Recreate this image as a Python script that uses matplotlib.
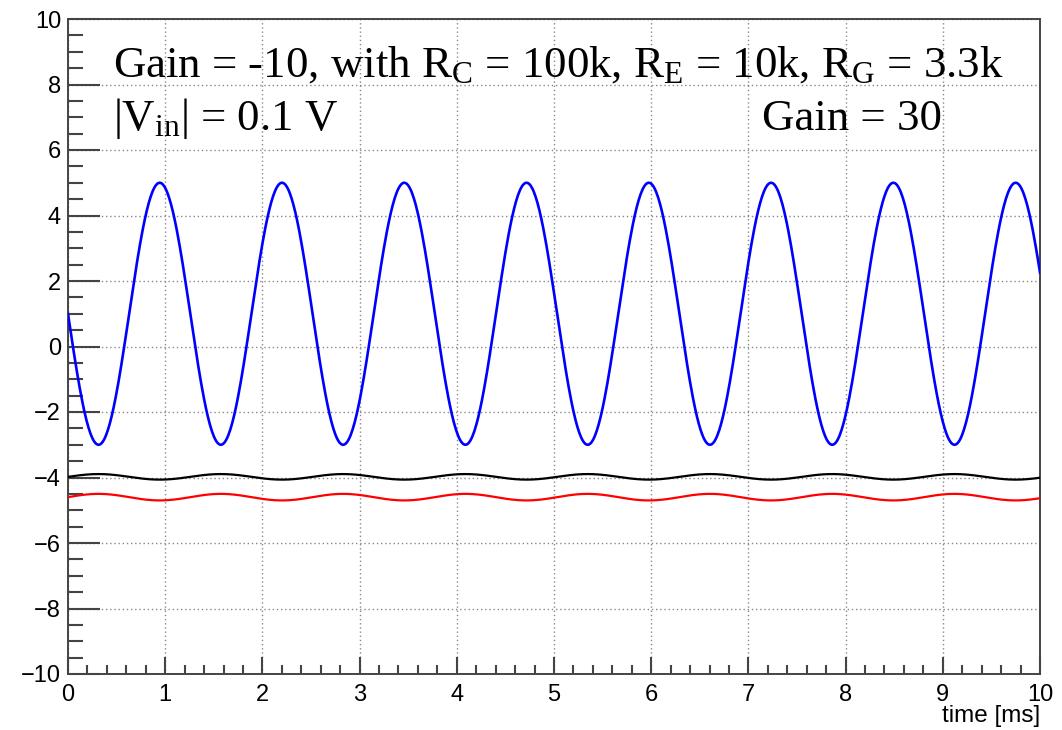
import numpy as np
import matplotlib
matplotlib.use("Agg")
import matplotlib.pyplot as plt
from matplotlib.ticker import MultipleLocator

plt.rcParams["mathtext.fontset"] = "custom"
plt.rcParams["mathtext.rm"] = "Liberation Serif"
plt.rcParams["mathtext.it"] = "Liberation Serif:italic"
plt.rcParams["axes.unicode_minus"] = True

# Scope traces: sampled time base [ms] and measured sine parameters
period_ms = 1.258
t_start, t_stop, t_step = 0.0, 10.0, 0.01

# output (blue): offset, amplitude (inverted w.r.t. input)
out_offset, out_amp = 1.0, -4.0
# black trace: offset, amplitude
blk_offset, blk_amp = -3.98, 0.085
# red trace: offset, amplitude
red_offset, red_amp = -4.60, 0.10

x_ticks = [0, 1, 2, 3, 4, 5, 6, 7, 8, 9, 10]
y_ticks = [-10, -8, -6, -4, -2, 0, 2, 4, 6, 8, 10]

t = np.arange(t_start, t_stop + t_step / 2, t_step)
phase = np.sin(2 * np.pi * t / period_ms)
v_out = out_offset + out_amp * phase
v_blk = blk_offset + blk_amp * phase
v_red = red_offset + red_amp * phase

W, H = 1062, 730
fig = plt.figure(figsize=(W / 100, H / 100), dpi=100)
ax = fig.add_axes([68 / W, (H - 674) / H, (1040 - 68) / W, (674 - 19) / H])

ax.plot(t, v_blk, color="black", lw=1.6, zorder=3)
ax.plot(t, v_red, color="#ff0000", lw=1.6, zorder=3)
ax.plot(t, v_out, color="#0000ff", lw=1.9, zorder=4)

ax.set_xlim(0, 10)
ax.set_ylim(-10, 10)
ax.set_xticks(x_ticks)
ax.set_yticks(y_ticks)
ax.xaxis.set_minor_locator(MultipleLocator(0.2))
ax.yaxis.set_minor_locator(MultipleLocator(0.5))

spine_c = "#444444"
for s in ax.spines.values():
    s.set_color(spine_c)
    s.set_linewidth(1.4)

ax.tick_params(axis="both", which="both", direction="in", color=spine_c,
               width=1.5, labelsize=17, top=False, right=False)
ax.tick_params(axis="y", which="major", length=23, pad=5)
ax.tick_params(axis="y", which="minor", length=11)
ax.tick_params(axis="x", which="major", length=12, pad=7)
ax.tick_params(axis="x", which="minor", length=6.5)
for lab in ax.get_xticklabels() + ax.get_yticklabels():
    lab.set_fontfamily("Liberation Sans")

ax.grid(True, which="major", color="#888888", linestyle=(0, (1, 2)), lw=1.0)
ax.set_axisbelow(True)

fig.text(1040 / W, 1 - 716 / H, "time [ms]", ha="right", va="center",
         fontsize=17.5, family="Liberation Sans")

serif = dict(fontsize=32.3, family="Liberation Serif", va="baseline", color="black")
fig.text(113 / W, 1 - 77 / H,
         r"Gain = -10, with R$_{\rm C}$ = 100k, R$_{\rm E}$ = 10k, R$_{\rm G}$ = 3.3k",
         **serif)
fig.text(113 / W, 1 - 130 / H, r"|V$_{\rm in}$| = 0.1 V", **serif)
fig.text(762 / W, 1 - 130 / H, "Gain = 30", **serif)

fig.savefig("out.png", dpi=100)
